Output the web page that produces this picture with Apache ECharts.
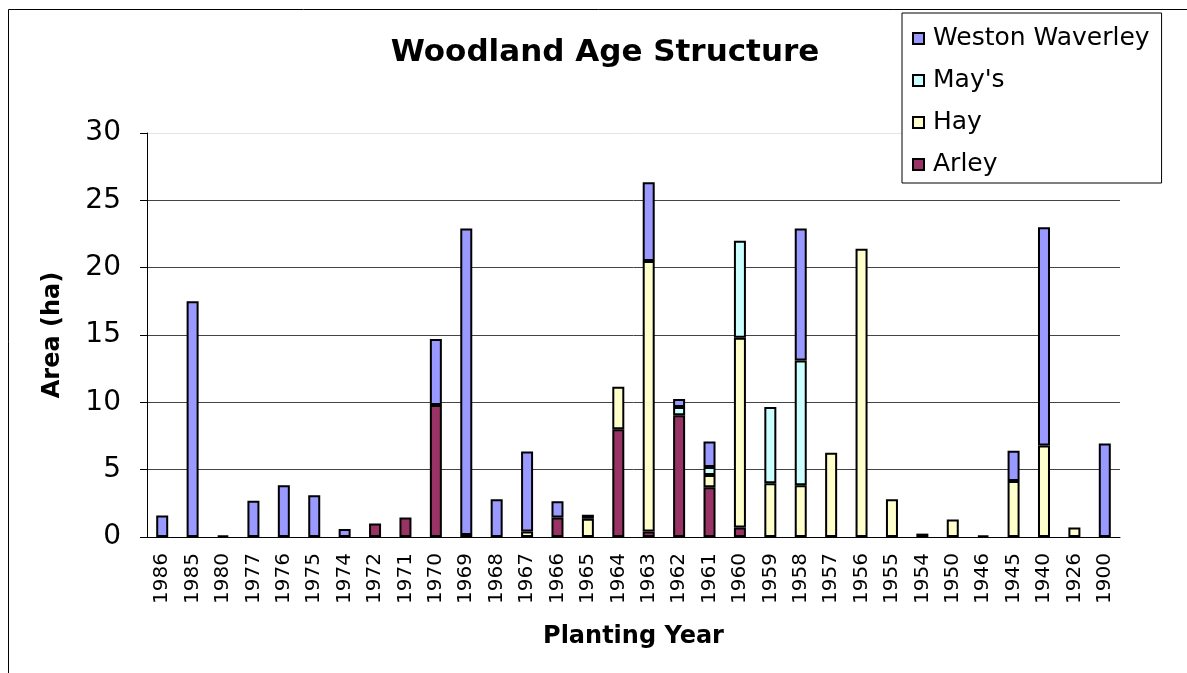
<!DOCTYPE html>
<html>
<head>
<meta charset="utf-8">
<title>Woodland Age Structure</title>
<script src="https://cdn.jsdelivr.net/npm/echarts@6/dist/echarts.min.js"></script>
<style>
    html, body { margin: 0; padding: 0; background: #fff; }
    #chart { width: 1187px; height: 673px; }
</style>
</head>
<body>
<div id="chart"></div>
<script>
// planting years, in the order they are shown
var years = ['1986', '1985', '1980', '1977', '1976', '1975', '1974', '1972', '1971', '1970',
    '1969', '1968', '1967', '1966', '1965', '1964', '1963', '1962', '1961', '1960',
    '1959', '1958', '1957', '1956', '1955', '1954', '1950', '1946', '1945', '1940',
    '1926', '1900'];

// area (ha) per woodland
var arley = [0, 0, 0.1, 0, 0, 0, 0, 1.0, 1.45, 9.8,
    0.15, 0, 0, 1.45, 0, 8.0, 0.4, 9.05, 3.7, 0.7,
    0, 0, 0, 0, 0, 0, 0, 0.1, 0, 0,
    0, 0];
var hay = [0, 0, 0, 0, 0, 0, 0, 0, 0, 0,
    0, 0, 0.4, 0, 1.35, 3.15, 20.1, 0, 0.9, 14.1,
    4.0, 3.85, 6.25, 21.4, 2.8, 0, 1.3, 0, 4.15, 6.8,
    0.7, 0];
var mays = [0, 0, 0, 0, 0, 0, 0, 0, 0, 0,
    0, 0, 0, 0, 0, 0, 0, 0.6, 0.6, 7.2,
    5.65, 9.25, 0, 0, 0, 0, 0, 0, 0, 0,
    0, 0];
var weston = [1.6, 17.5, 0, 2.7, 3.85, 3.1, 0.6, 0, 0, 4.9,
    22.75, 2.8, 5.95, 1.2, 0.3, 0, 5.85, 0.6, 1.9, 0,
    0, 9.8, 0, 0, 0, 0.25, 0, 0, 2.25, 16.2,
    0, 6.95];

var yTicks = [0, 5, 10, 15, 20, 25, 30];

var font = 'DejaVu Sans, Verdana, sans-serif';

var chart = echarts.init(document.getElementById('chart'));

function barSeries(name, data, color) {
    return {
        name: name,
        type: 'bar',
        stack: 'area',
        // empty cells get no bar at all (otherwise the border shows as a line)
        data: data.map(function (v) { return v === 0 ? '-' : v; }),
        barWidth: 12,
        itemStyle: { color: color, borderColor: '#000', borderWidth: 2 }
    };
}

var option = {
    animation: false,
    backgroundColor: '#fff',
    textStyle: { fontFamily: font },
    title: {
        text: 'Woodland Age Structure',
        left: 600,
        top: 32,
        textAlign: 'center',
        textStyle: { fontSize: 31, fontWeight: 'bold', color: '#000', fontFamily: font }
    },
    legend: {
        orient: 'vertical',
        left: 902,
        top: 13,
        padding: [13, 12, 6, 10],
        itemGap: 17,
        itemWidth: 11,
        itemHeight: 11,
        icon: 'rect',
        borderColor: '#000',
        borderWidth: 1,
        backgroundColor: '#fff',
        textStyle: { fontSize: 25, color: '#000', fontFamily: font, padding: [0, 0, 0, 4] },
        data: ['Weston Waverley', "May's", 'Hay', 'Arley']
    },
    graphic: [{
        type: 'rect',
        shape: { x: 8.5, y: 9.5, width: 1300, height: 800 },
        style: { fill: 'none', stroke: '#000', lineWidth: 1 },
        silent: true
    }],
    grid: { left: 147, right: 67, top: 133, bottom: 136 },
    xAxis: {
        type: 'category',
        data: years,
        name: 'Planting Year',
        nameLocation: 'middle',
        nameGap: 88,
        nameTextStyle: { fontSize: 24, fontWeight: 'bold', color: '#000', fontFamily: font },
        axisLine: { lineStyle: { color: '#000', width: 1 } },
        axisTick: { length: 6, lineStyle: { color: '#000' } },
        axisLabel: { rotate: 90, fontSize: 20, color: '#000', margin: 16, fontFamily: font }
    },
    yAxis: {
        type: 'value',
        min: yTicks[0],
        max: yTicks[yTicks.length - 1],
        interval: 5,
        name: 'Area (ha)',
        nameLocation: 'middle',
        nameGap: 82,
        nameTextStyle: { fontSize: 24, fontWeight: 'bold', color: '#000', fontFamily: font },
        axisLine: { show: true, lineStyle: { color: '#000', width: 1 } },
        axisTick: { show: true, length: 7, lineStyle: { color: '#000' } },
        axisLabel: { fontSize: 28, color: '#000', margin: 26, fontFamily: font },
        splitLine: {
            lineStyle: { color: ['#000', '#444', '#444', '#444', '#444', '#444', '#e4e4e4'], width: 1 }
        }
    },
    series: [
        barSeries('Arley', arley, '#993366'),
        barSeries('Hay', hay, '#FFFFCC'),
        barSeries("May's", mays, '#CCFFFF'),
        barSeries('Weston Waverley', weston, '#9999FF')
    ]
};

chart.setOption(option);
</script>
</body>
</html>
